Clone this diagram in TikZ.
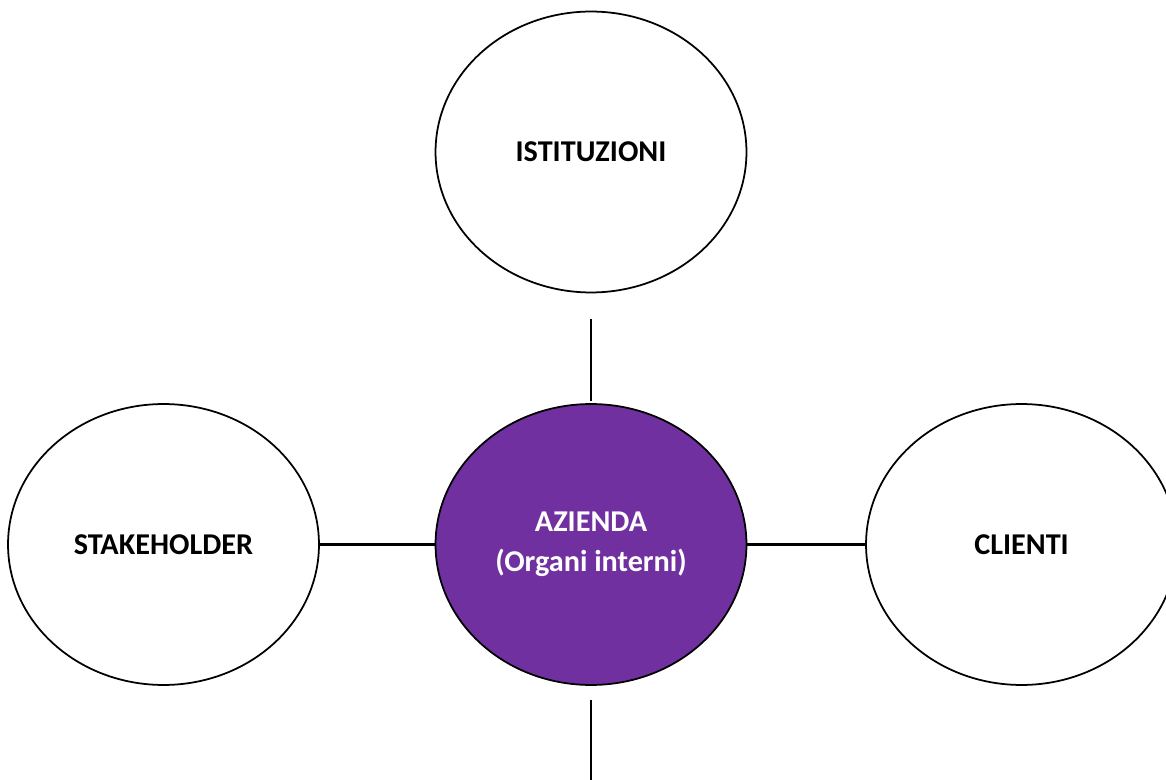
\documentclass[tikz,border=0pt]{standalone}
\usepackage{fontspec}
\setmainfont{Carlito}
\usetikzlibrary{shapes.geometric}
\definecolor{viola}{HTML}{7030A0}

\begin{document}
\begin{tikzpicture}[x=0.02cm,y=-0.02cm,
 bolla/.style={draw,ellipse,line width=1pt,inner sep=0pt,minimum width=6.22cm,
 minimum height=5.62cm,align=center,font=\fontsize{17.2}{22.7}\selectfont\bfseries},
 centro/.style={bolla,fill=viola,text=white},
 link/.style={line width=1.2pt}]
\useasboundingbox (0,0) rectangle (1166,780);
\node[bolla] (ist) at (591,152) {ISTITUZIONI};
\node[centro] (az) at (591,544.5) {AZIENDA\\(Organi interni)};
\node[bolla] (stake) at (163.5,544.5) {STAKEHOLDER};
\node[bolla] (cli) at (1021.5,544.5) {CLIENTI};
\coordinate (giu) at (591,780);
\draw[link,shorten <=0.52cm,shorten >=0.04cm] (ist) -- (az);
\draw[link] (stake) -- (az);
\draw[link] (az) -- (cli);
\draw[link,shorten <=0.28cm] (az) -- (giu);
\end{tikzpicture}
\end{document}
